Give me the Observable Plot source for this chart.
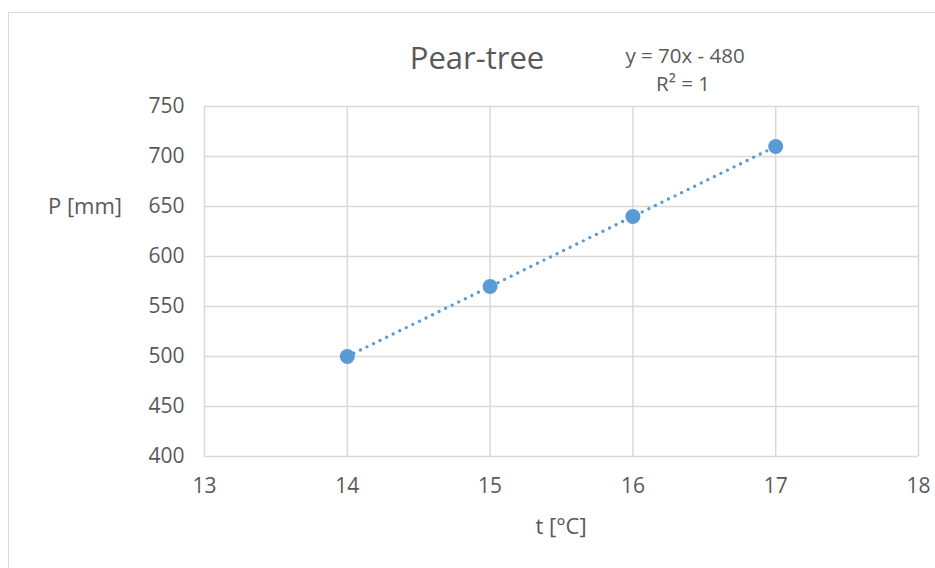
<!DOCTYPE html>
<html>
<head>
<meta charset="utf-8">
<script src="https://cdn.jsdelivr.net/npm/d3@7"></script>
<script src="https://cdn.jsdelivr.net/npm/@observablehq/plot@0.6"></script>
<style>
  html, body { margin: 0; padding: 0; background: #fff; }
  #wrap { position: relative; width: 935px; height: 568px; overflow: hidden; font-family: "Open Sans", "Noto Sans", sans-serif; color: #595959; }
  #frame { position: absolute; left: 8px; top: 12px; width: 960px; height: 600px; border: 1.5px solid #d9d9d9; box-sizing: border-box; }
  #chart { position: absolute; left: 0; top: 0; }
  .lbl { position: absolute; white-space: nowrap; line-height: 1; }
</style>
</head>
<body>
<div id="wrap">
  <div id="frame"></div>
  <div id="chart"></div>
  <div class="lbl" id="title" style="font-size:31px;">Pear-tree</div>
  <div class="lbl" id="eq1" style="font-size:20.5px;">y = 70x - 480</div>
  <div class="lbl" id="eq2" style="font-size:20.5px;">R² = 1</div>
  <div class="lbl" id="ylab" style="font-size:22px;">P [mm]</div>
  <div class="lbl" id="xlab" style="font-size:22px;">t [°C]</div>
</div>
<script>
const temperature = [14, 15, 16, 17];
const precipitation = [500, 570, 640, 710];
const xTicks = [13, 14, 15, 16, 17, 18];
const yTicks = [400, 450, 500, 550, 600, 650, 700, 750];

const data = temperature.map((t, i) => ({t, p: precipitation[i]}));

const grid = "#d9d9d9";
const blue = "#5b9bd5";

const chart = Plot.plot({
  width: 935,
  height: 568,
  marginTop: 106,
  marginLeft: 204,
  marginRight: 17,
  marginBottom: 112,
  style: {fontFamily: "'Open Sans', 'Noto Sans', sans-serif", color: "#595959", background: "transparent", overflow: "visible"},
  x: {domain: [13, 18]},
  y: {domain: [400, 750]},
  marks: [
    Plot.gridX(xTicks, {stroke: grid, strokeOpacity: 1, strokeWidth: 1.5}),
    Plot.gridY(yTicks, {stroke: grid, strokeOpacity: 1, strokeWidth: 1.5}),
    Plot.axisX(xTicks, {tickSize: 0, tickPadding: 22, fontSize: 21, label: null, fill: "#595959", tickFormat: d3.format("d")}),
    Plot.axisY(yTicks, {tickSize: 0, tickPadding: 20, fontSize: 21, label: null, fill: "#595959", tickFormat: d3.format("d")}),
    Plot.linearRegressionY(data, {x: "t", y: "p", ci: 0, stroke: blue, strokeWidth: 3.4, strokeDasharray: "0,7.3", strokeLinecap: "round"}),
    Plot.dot(data, {x: "t", y: "p", r: 7.5, fill: blue, stroke: "none"})
  ]
});
document.getElementById("chart").appendChild(chart);

function place(id, cx, baseline) {
  const el = document.getElementById(id);
  const r = el.getBoundingClientRect();
  const fs = parseFloat(el.style.fontSize);
  el.style.left = (cx - r.width / 2) + "px";
  el.style.top = (baseline - fs * 0.82) + "px";
}
place("title", 477, 67);
place("eq1", 685, 62);
place("eq2", 683, 90);
place("ylab", 85, 212);
place("xlab", 561, 532);
</script>
</body>
</html>
